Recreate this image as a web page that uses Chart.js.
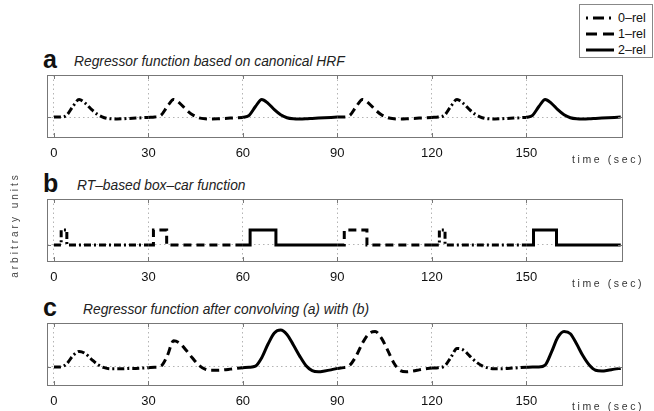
<!DOCTYPE html>
<html>
<head>
<meta charset="utf-8">
<script src="https://cdn.jsdelivr.net/npm/chart.js@4.4.0/dist/chart.umd.min.js"></script>
<style>
  html, body { margin: 0; padding: 0; background: #fff; }
  body { width: 654px; height: 411px; position: relative; overflow: hidden; font-family: "Liberation Sans", Arial, sans-serif; }
  .panel { position: absolute; left: 0; }
  .letter { position: absolute; left: 43px; font-weight: bold; font-size: 25px; line-height: 24px; color: #111; }
  .title { position: absolute; font-style: italic; font-size: 13.8px; line-height: 14px; color: #222; white-space: nowrap; }
  .time { position: absolute; left: 572px; font-size: 10.5px; line-height: 12px; letter-spacing: 2.6px; color: #333; white-space: nowrap; }
  #ylab { position: absolute; left: -50px; top: 219px; width: 130px; text-align: center; font-size: 10px; line-height: 12px;
          letter-spacing: 3px; color: #444; transform: rotate(-90deg); white-space: nowrap; }
  #legend { position: absolute; left: 579px; top: 4px; width: 72px; height: 52px; border: 1px solid #888; background: #fff; }
  #legend .row { position: absolute; left: 0; width: 72px; height: 14px; }
  #legend svg { position: absolute; left: 5px; top: 0; }
  #legend span { position: absolute; left: 38px; top: 0; font-size: 12.5px; line-height: 14px; color: #111; white-space: nowrap; }
</style>
</head>
<body>

<div id="legend">
  <div class="row" style="top:6px"><svg width="30" height="14"><line x1="1" y1="7" x2="29" y2="7" stroke="#000" stroke-width="3" stroke-dasharray="2 5 11 5 2 10"/></svg><span>0&#8211;rel</span></div>
  <div class="row" style="top:22px"><svg width="30" height="14"><line x1="1" y1="7" x2="29" y2="7" stroke="#000" stroke-width="3" stroke-dasharray="11 6"/></svg><span>1&#8211;rel</span></div>
  <div class="row" style="top:38px"><svg width="30" height="14"><line x1="1" y1="7" x2="29" y2="7" stroke="#000" stroke-width="3"/></svg><span>2&#8211;rel</span></div>
</div>

<div class="letter" style="top:47px">a</div>
<div class="title" style="top:55px;left:74px">Regressor function based on canonical HRF</div>
<canvas id="chartA" class="panel" style="top:70px" width="654" height="90"></canvas>
<div class="time" style="top:153px">time (sec)</div>

<div class="letter" style="top:171px">b</div>
<div class="title" style="top:179px;left:77px">RT&#8211;based box&#8211;car function</div>
<canvas id="chartB" class="panel" style="top:194px" width="654" height="90"></canvas>
<div class="time" style="top:277px">time (sec)</div>

<div class="letter" style="top:295px">c</div>
<div class="title" style="top:303px;left:83px">Regressor function after convolving (a) with (b)</div>
<canvas id="chartC" class="panel" style="top:318px" width="654" height="90"></canvas>
<div class="time" style="top:400px">time (sec)</div>

<div id="ylab">arbitrary units</div>

<script>
// Blocks of the session and their condition
var blockEdges = [0, 30, 60, 90, 120, 150, 180];
var blockConditions = ['0-rel', '1-rel', '2-rel', '1-rel', '0-rel', '2-rel'];
var conditionNames = ['0-rel', '1-rel', '2-rel'];

var xTicks = [0, 30, 60, 90, 120, 150];
var xTickLabels = ['0', '30', '60', '90', '120', '150'];

// Sample times (sec) for panels a and c
var timeSec = [0, 2, 4, 6, 8, 10, 12, 14, 16, 18, 20, 22, 24, 26, 28,
  30, 32, 34, 36, 38, 40, 42, 44, 46, 48, 50, 52, 54, 56, 58,
  60, 62, 64, 66, 68, 70, 72, 74, 76, 78, 80, 82, 84, 86, 88,
  90, 92, 94, 96, 98, 100, 102, 104, 106, 108, 110, 112, 114, 116, 118,
  120, 122, 124, 126, 128, 130, 132, 134, 136, 138, 140, 142, 144, 146, 148,
  150, 152, 154, 156, 158, 160, 162, 164, 166, 168, 170, 172, 174, 176, 178, 180];

// a: canonical HRF regressor
var hrfRegressor = [0, 0, 0.1, 0.6, 1.0, 0.78, 0.42, 0.13, -0.04, -0.1, -0.11, -0.1, -0.08, -0.06, -0.04,
  -0.02, 0, 0.1, 0.6, 1.0, 0.78, 0.42, 0.13, -0.04, -0.1, -0.11, -0.1, -0.08, -0.06, -0.04,
  -0.02, 0.1, 0.6, 1.0, 0.78, 0.42, 0.13, -0.04, -0.1, -0.11, -0.1, -0.08, -0.06, -0.04, -0.02,
  0, 0, 0.1, 0.6, 1.0, 0.78, 0.42, 0.13, -0.04, -0.1, -0.11, -0.1, -0.08, -0.06, -0.04,
  -0.02, 0, 0.1, 0.6, 1.0, 0.78, 0.42, 0.13, -0.04, -0.1, -0.11, -0.1, -0.08, -0.06, -0.04,
  -0.02, 0.1, 0.6, 1.0, 0.78, 0.42, 0.13, -0.04, -0.1, -0.11, -0.1, -0.08, -0.06, -0.04, -0.02, 0];

// b: RT-based box-car
var boxcarTime = [0, 2.3, 2.3, 4.1, 4.1, 30,
  31.6, 31.6, 35.8, 35.8, 60,
  62.3, 62.3, 70.5, 70.5, 90,
  92.2, 92.2, 99.4, 99.4, 120,
  122.4, 122.4, 124.2, 124.2, 150,
  152.3, 152.3, 159.6, 159.6, 180];
var boxcarValue = [0, 0, 1, 1, 0, 0,
  0, 1, 1, 0, 0,
  0, 1, 1, 0, 0,
  0, 1, 1, 0, 0,
  0, 1, 1, 0, 0,
  0, 1, 1, 0, 0];

// c: HRF convolved with box-car
var convolvedRegressor = [0, 0, 0.08, 0.3, 0.42, 0.36, 0.2, 0.06, -0.02, -0.05, -0.05, -0.05, -0.04, -0.04, -0.03,
  -0.02, -0.01, 0.02, 0.3, 0.71, 0.64, 0.45, 0.24, 0.05, -0.06, -0.09, -0.09, -0.08, -0.06, -0.04,
  -0.02, -0.01, 0.02, 0.25, 0.62, 0.92, 1.0, 0.88, 0.6, 0.3, 0.04, -0.1, -0.13, -0.11, -0.08,
  -0.04, -0.02, 0.05, 0.3, 0.65, 0.9, 0.96, 0.78, 0.45, 0.1, -0.1, -0.13, -0.11, -0.08, -0.05,
  -0.03, -0.02, 0.02, 0.25, 0.5, 0.46, 0.3, 0.14, 0.03, -0.03, -0.05, -0.05, -0.04, -0.03, -0.02,
  -0.01, 0, 0, 0.05, 0.4, 0.8, 0.96, 0.9, 0.62, 0.3, 0.05, -0.09, -0.11, -0.09, -0.06, -0.04];

var dashStyles = { '0-rel': [7, 3, 2, 3], '1-rel': [8, 5], '2-rel': [] };

// keep only the blocks belonging to one condition, with gaps between them
function splitByCondition(times, values, name) {
  var pts = [];
  for (var b = 0; b < blockConditions.length; b++) {
    if (blockConditions[b] !== name) continue;
    for (var i = 0; i < times.length; i++) {
      if (times[i] >= blockEdges[b] && times[i] <= blockEdges[b + 1]) {
        pts.push({ x: times[i], y: values[i] });
      }
    }
    pts.push({ x: blockEdges[b + 1], y: null });
  }
  return pts;
}

var framePlugin = {
  id: 'frame',
  afterDatasetsDraw: function(chart) {
    var ctx = chart.ctx, a = chart.chartArea, sx = chart.scales.x, sy = chart.scales.y;
    ctx.save();
    ctx.strokeStyle = '#777';
    ctx.lineWidth = 1;
    ctx.setLineDash([]);
    ctx.strokeRect(Math.round(a.left) + 0.5, Math.round(a.top) + 0.5, Math.round(a.right - a.left), Math.round(a.bottom - a.top));
    ctx.beginPath();
    xTicks.forEach(function(v) {
      var x = Math.round(sx.getPixelForValue(v)) + 0.5;
      ctx.moveTo(x, a.top); ctx.lineTo(x, a.top + 4);
      ctx.moveTo(x, a.bottom); ctx.lineTo(x, a.bottom - 4);
    });
    var y0 = Math.round(sy.getPixelForValue(0)) + 0.5;
    ctx.moveTo(a.left, y0); ctx.lineTo(a.left + 4, y0);
    ctx.moveTo(a.right, y0); ctx.lineTo(a.right - 4, y0);
    ctx.stroke();
    ctx.restore();
  }
};

function makePanel(id, times, values, yMin, yMax, smooth) {
  var datasets = conditionNames.map(function(name) {
    return {
      label: name,
      data: splitByCondition(times, values, name),
      borderColor: '#000',
      borderWidth: 3,
      borderDash: dashStyles[name],
      borderCapStyle: 'butt',
      pointRadius: 0,
      fill: false,
      tension: 0,
      cubicInterpolationMode: smooth ? 'monotone' : 'default'
    };
  });
  new Chart(document.getElementById(id), {
    type: 'line',
    data: { datasets: datasets },
    options: {
      responsive: false,
      animation: false,
      layout: { padding: { left: 47, right: 32, top: 5, bottom: 0 } },
      plugins: { legend: { display: false }, tooltip: { enabled: false } },
      scales: {
        x: {
          type: 'linear', min: -2.2, max: 180.4,
          afterBuildTicks: function(axis) { axis.ticks = xTicks.map(function(v) { return { value: v }; }); },
          afterFit: function(axis) { axis.height = 23; },
          grid: { color: '#b4b4b4', lineWidth: 1, drawTicks: false },
          border: { display: false, dash: [1.5, 3] },
          ticks: {
            padding: 9, color: '#111', maxRotation: 0, autoSkip: false,
            font: { family: 'Liberation Sans', size: 13 },
            callback: function(v, i) { return xTickLabels[i]; }
          }
        },
        y: {
          type: 'linear', min: yMin, max: yMax,
          afterBuildTicks: function(axis) { axis.ticks = [{ value: 0 }]; },
          afterFit: function(axis) { axis.width = 0; },
          grid: { color: '#b4b4b4', lineWidth: 1, drawTicks: false },
          border: { display: false, dash: [1.5, 3] },
          ticks: { display: false }
        }
      }
    },
    plugins: [framePlugin]
  });
}

makePanel('chartA', timeSec, hrfRegressor, -1.14, 2.4, true);
makePanel('chartB', boxcarTime, boxcarValue, -1.07, 3.07, false);
makePanel('chartC', timeSec, convolvedRegressor, -0.49, 1.19, true);
</script>
</body>
</html>
